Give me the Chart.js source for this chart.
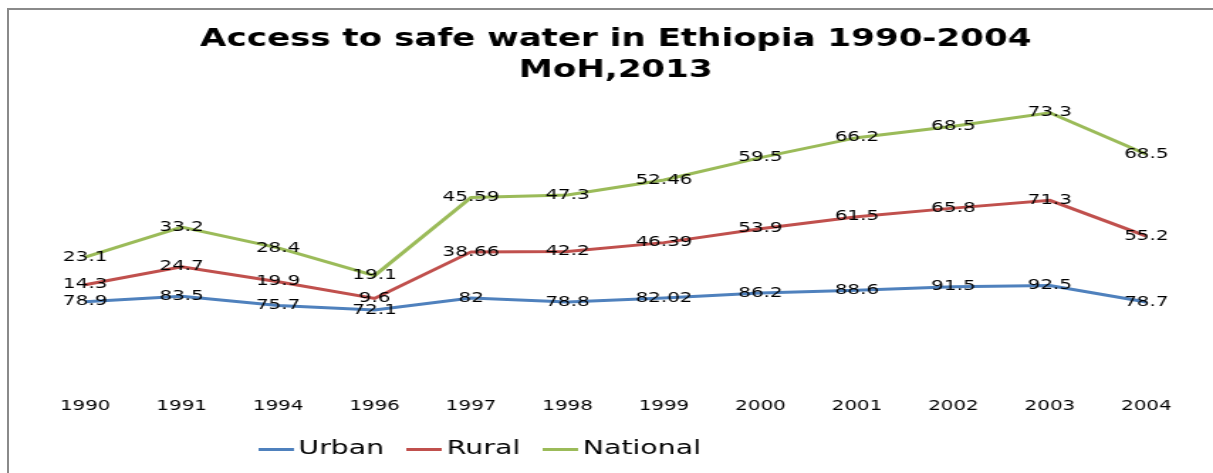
<!DOCTYPE html>
<html>
<head>
<meta charset="utf-8">
<script src="https://cdn.jsdelivr.net/npm/chart.js@4/dist/chart.umd.min.js"></script>
<style>
  html, body { margin: 0; padding: 0; background: #fff; }
  body { width: 1213px; height: 473px; position: relative; overflow: hidden; }
  #wrap { position: absolute; left: 0; top: 0; width: 854px; height: 473px; transform: scaleX(1.4204); transform-origin: 0 0; }
  #frame { position: absolute; left: 7px; top: 8px; right: 0; bottom: 0; border-top: 2px solid #8a8a8a; border-left: 2px solid #8a8a8a; pointer-events: none; }
</style>
</head>
<body>
<div id="frame"></div>
<div id="wrap"><canvas id="c" width="854" height="473"></canvas></div>
<script>
const years = ['1990','1991','1994','1996','1997','1998','1999','2000','2001','2002','2003','2004'];
const urban = [78.9, 83.5, 75.7, 72.1, 82, 78.8, 82.02, 86.2, 88.6, 91.5, 92.5, 78.7];
const rural = [14.3, 24.7, 19.9, 9.6, 38.66, 42.2, 46.39, 53.9, 61.5, 65.8, 71.3, 55.2];
const national = [23.1, 33.2, 28.4, 19.1, 45.59, 47.3, 52.46, 59.5, 66.2, 68.5, 73.3, 68.5];
const titleLines = ['Access to safe water in Ethiopia 1990-2004', 'MoH,2013'];

const FONT = "'DejaVu Sans', Verdana, sans-serif";

function legendLine(color) {
  const cv = document.createElement('canvas');
  cv.width = 25; cv.height = 3;
  const g = cv.getContext('2d');
  g.fillStyle = color;
  g.fillRect(0, 0, 25, 3);
  return cv;
}

const valueLabels = {
  id: 'valueLabels',
  afterDatasetsDraw(chart) {
    const ctx = chart.ctx;
    ctx.save();
    ctx.font = '14px ' + FONT;
    ctx.fillStyle = '#000';
    ctx.textAlign = 'center';
    ctx.textBaseline = 'middle';
    chart.data.datasets.forEach((ds, i) => {
      const meta = chart.getDatasetMeta(i);
      meta.data.forEach((pt, j) => {
        ctx.fillText(String(ds.data[j]), pt.x, pt.y);
      });
    });
    ctx.restore();
  }
};

const legendShift = {
  id: 'legendShift',
  afterLayout(chart) {
    if (chart.legend) { chart.legend.left = 166; }
  }
};

new Chart(document.getElementById('c'), {
  type: 'line',
  data: {
    labels: years,
    datasets: [
      { label: 'Urban', data: urban, borderColor: '#4F81BD', backgroundColor: '#4F81BD', borderWidth: 3, pointRadius: 0, tension: 0, pointStyle: legendLine('#4F81BD') },
      { label: 'Rural', data: rural, borderColor: '#C0504D', backgroundColor: '#C0504D', borderWidth: 3, pointRadius: 0, tension: 0, pointStyle: legendLine('#C0504D') },
      { label: 'National', data: national, borderColor: '#9BBB59', backgroundColor: '#9BBB59', borderWidth: 3, pointRadius: 0, tension: 0, pointStyle: legendLine('#9BBB59') }
    ]
  },
  options: {
    responsive: false,
    animation: false,
    devicePixelRatio: 1,
    layout: { padding: { left: 26, right: 13, top: 0, bottom: 4 } },
    plugins: {
      title: {
        display: true,
        text: titleLines,
        color: '#000',
        font: { family: FONT, size: 24, weight: 'bold', lineHeight: 1.3 },
        padding: { top: 24, bottom: 11 }
      },
      legend: {
        position: 'bottom',
        align: 'start',
        labels: {
          usePointStyle: true,
          pointStyleWidth: 12,
          color: '#000',
          padding: 22,
          font: { family: FONT, size: 20 }
        }
      },
      tooltip: { enabled: false }
    },
    scales: {
      x: {
        offset: true,
        grid: { display: false, drawTicks: false },
        border: { display: false },
        ticks: { color: '#000', padding: 2, font: { family: FONT, size: 14 }, maxRotation: 0, autoSkip: false },
        afterFit(s) { s.height = 21; }
      },
      y: {
        display: false,
        stacked: true,
        min: 0,
        max: 250
      }
    }
  },
  plugins: [valueLabels, legendShift]
});
</script>
</body>
</html>
